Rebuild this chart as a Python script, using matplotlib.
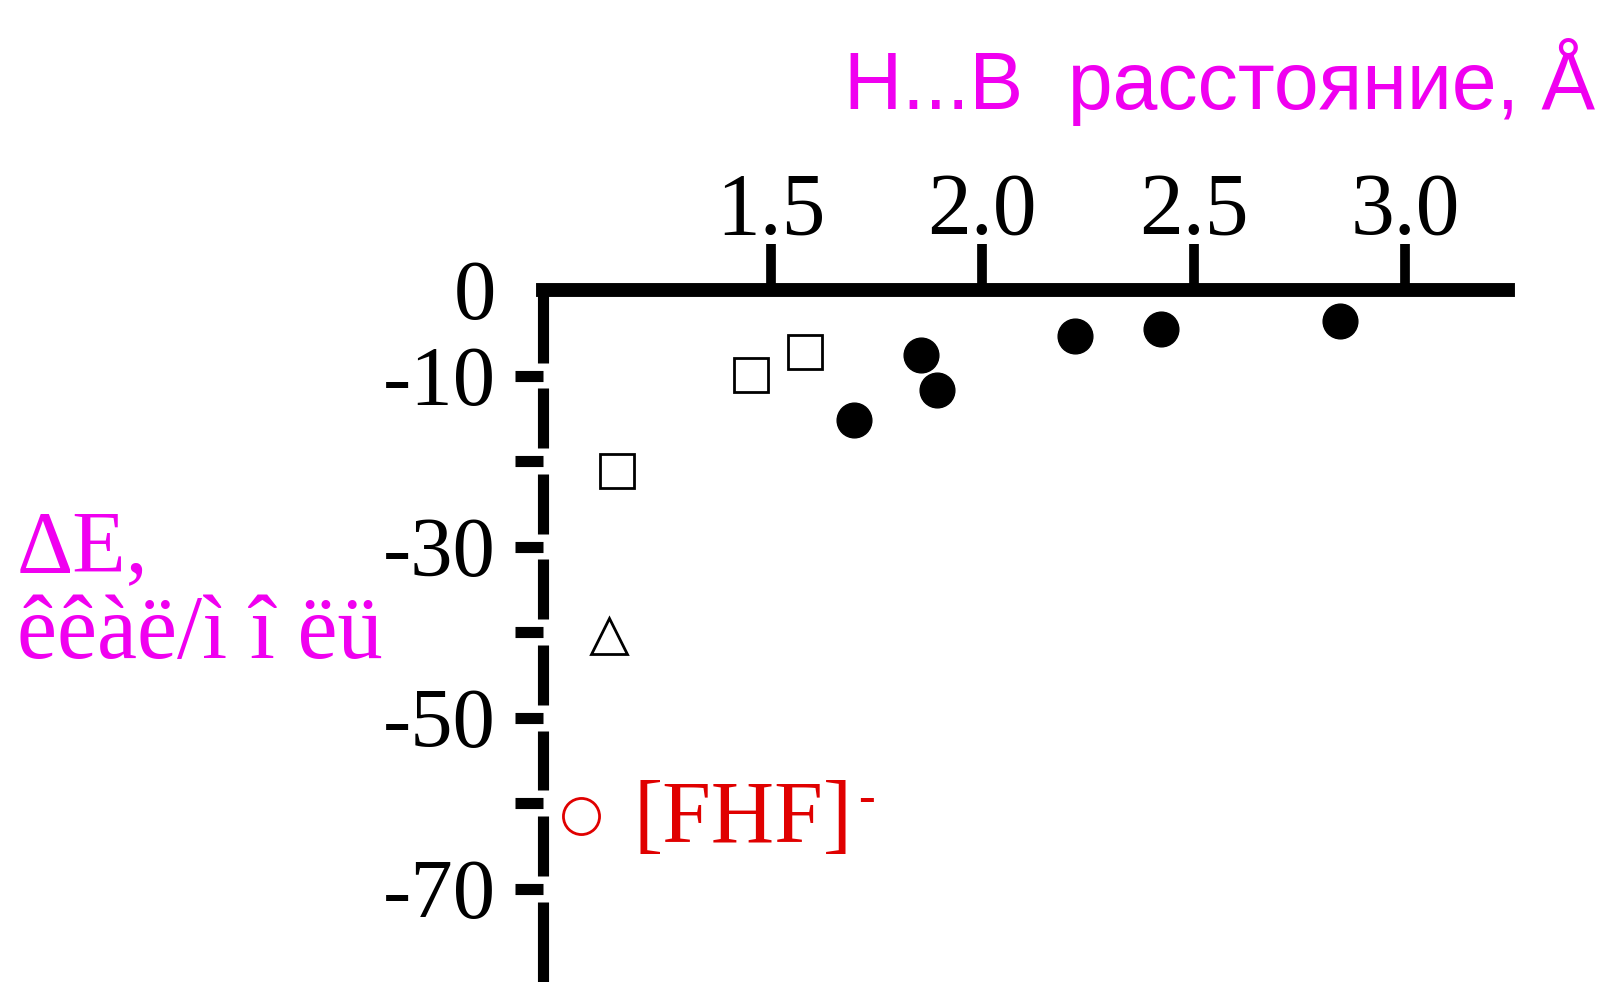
import matplotlib
matplotlib.use("Agg")
import matplotlib.pyplot as plt

# H...B distance (Å) vs interaction energy (kcal/mol)
fhf_x = [1.05]
fhf_y = [-61.5]
square_x = [1.135, 1.453, 1.580]
square_y = [-21.2, -9.9, -7.25]
triangle_x = [1.116]
triangle_y = [-40.4]
dot_x = [1.696, 1.855, 1.893, 2.219, 2.423, 2.847]
dot_y = [-15.2, -7.6, -11.7, -5.4, -4.6, -3.6]

xticks = [1.5, 2.0, 2.5, 3.0]
xtick_labels = ['1.5', '2.0', '2.5', '3.0']
yticks = [0, -10, -20, -30, -40, -50, -60, -70]
ytick_labels = ['0', '-10', '', '-30', '', '-50', '', '-70']

xlabel = 'H...B  расстояние, Å'
ylabel_top = 'ΔE,'
ylabel_bottom = 'êêàë/ì î ëü'
fhf_label = '[FHF]'

MAGENTA = '#f000f0'
RED = '#e00000'

plt.rcParams['font.family'] = ['Liberation Serif', 'DejaVu Serif']

fig = plt.figure(figsize=(15.98, 9.82), dpi=100)
ax = fig.add_axes([0.3398, 0.0, 0.6039, 0.7047])
xmin, xmax = 0.96, 3.244
ymin, ymax = -80.9, 0
ax.set_xlim(xmin, xmax)
ax.set_ylim(ymin, ymax)

for side in ('left', 'right', 'bottom'):
    ax.spines[side].set_visible(False)
ax.spines['top'].set_linewidth(10)
ax.spines['top'].set_capstyle('projecting')

ax.xaxis.tick_top()
ax.set_xticks(xticks)
ax.set_xticklabels(xtick_labels)
ax.tick_params(axis='x', direction='out', length=33, width=7, pad=-6,
               labelsize=63)

ax.set_yticks(yticks)
ax.set_yticklabels(ytick_labels)
ax.tick_params(axis='y', direction='out', length=20, width=8, pad=14,
               labelsize=61)
ax.yaxis.get_major_ticks()[0].tick1line.set_visible(False)

# vertical axis drawn as pieces broken around each tick
gap = 1.5
starts = [0] + [t - gap for t in yticks[1:]]
ends = [t + gap for t in yticks[1:]] + [ymin]
ax.vlines([xmin] * len(starts), ends, starts, colors='black',
          linewidth=8, clip_on=False)

ax.plot(dot_x, dot_y, 'o', color='black', markersize=25, clip_on=False)
ax.plot(square_x, square_y, 's', markerfacecolor='white',
        markeredgecolor='black', markeredgewidth=2, markersize=24)
ax.plot(triangle_x, triangle_y, '^', markerfacecolor='white',
        markeredgecolor='black', markeredgewidth=2, markersize=26)
ax.plot(fhf_x, fhf_y, 'o', markerfacecolor='white',
        markeredgecolor=RED, markeredgewidth=2, markersize=26)

t = ax.annotate(fhf_label, xy=(fhf_x[0], fhf_y[0]), xytext=(38, -19),
                textcoords='offset points', color=RED, fontsize=63,
                ha='left', va='baseline')
ax.annotate('-', xy=(1.0, 1.0), xycoords=t, xytext=(4, -14),
            textcoords='offset points', color=RED, fontsize=36,
            ha='left', va='center')

fig.text(844 / 1598, 1 - 109 / 982, xlabel, color=MAGENTA, fontsize=58,
         family=['Liberation Sans', 'DejaVu Sans'], ha='left', va='baseline')
fig.text(17 / 1598, 1 - 571 / 982, ylabel_top, color=MAGENTA, fontsize=63,
         ha='left', va='baseline')
fig.text(17 / 1598, 1 - 658 / 982, ylabel_bottom, color=MAGENTA, fontsize=65,
         ha='left', va='baseline')

fig.savefig('out.png', dpi=100)
